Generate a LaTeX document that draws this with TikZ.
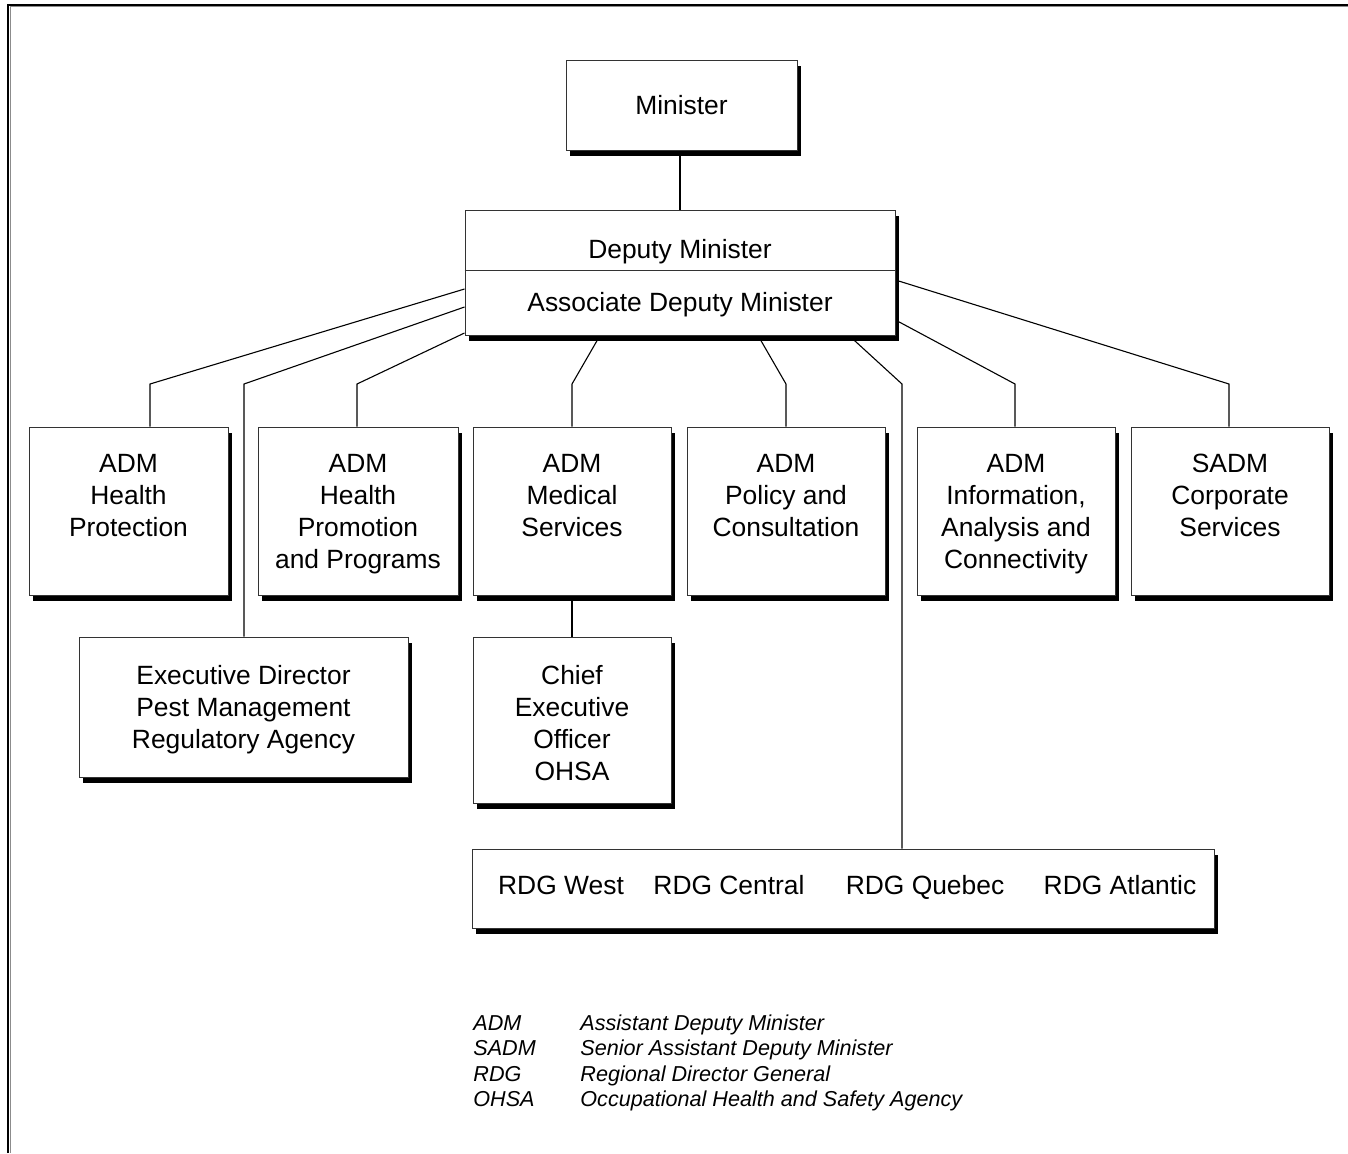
\documentclass[tikz,border=0pt]{standalone}
\usepackage{fontspec}
\setmainfont{Liberation Sans}
\usetikzlibrary{shadows,backgrounds}
\begin{document}
\begin{tikzpicture}[x=0.5pt,y=-0.5pt,
  box/.style={draw=black!80, line width=0.5pt, fill=white, inner sep=0pt, rectangle,
    drop shadow={shadow xshift=2pt, shadow yshift=-3pt, fill=black, opacity=1}},
  txt/.style={align=center, inner sep=0pt, font=\fontsize{13.2}{16}\selectfont},
  conn/.style={draw=black, line width=0.55pt},
  leg/.style={anchor=base west, inner sep=0pt, font=\fontsize{10.8}{13}\selectfont\itshape}]
\useasboundingbox (0,0) rectangle (1348,1153);
% frame
\draw[black!45, line width=0.5pt] (10,1153) -- (10,6.5) -- (1348,6.5);
\draw[black, line width=1pt] (8,1153) -- (8,4.5) -- (1348,4.5);

% helper coordinates
\coordinate (y289) at (0,289);
\coordinate (y307) at (0,307);
\coordinate (y333) at (0,333);
\coordinate (y320) at (0,320);
\coordinate (y280) at (0,280);
\coordinate (y270) at (0,270);
\coordinate (x600) at (600,0);
\coordinate (x758) at (758,0);
\coordinate (x849) at (849,0);
\coordinate (k1) at (150,384);
\coordinate (k2) at (244,384);
\coordinate (k3) at (357,384);
\coordinate (k4) at (572,384);
\coordinate (k5) at (786,384);
\coordinate (k6) at (902,384);
\coordinate (k7) at (1015,384);
\coordinate (k8) at (1229,384);

% boxes
\node[box, minimum width=115.5pt, minimum height=45pt, font=\fontsize{13.2}{16}\selectfont] (min) at (681.5,105) {Minister};
\node[box, minimum width=215pt, minimum height=62.5pt] (dep) at (680,272.5) {};
\draw[line width=0.5pt, black!80] (dep.west |- y270) -- (dep.east |- y270);
\node[txt, anchor=base] (dmt) at (680,258) {Deputy Minister};
\node[txt, anchor=base] (admt) at (680,311) {Associate Deputy Minister};

\node[box, minimum width=99.5pt, minimum height=84pt] (hp) at (128.5,511) {};
\node[box, minimum width=100pt, minimum height=84pt] (hpp) at (358,511) {};
\node[box, minimum width=99pt, minimum height=84pt] (ms) at (572,511) {};
\node[box, minimum width=99pt, minimum height=84pt] (pc) at (786,511) {};
\node[box, minimum width=99pt, minimum height=84pt] (iac) at (1016,511) {};
\node[box, minimum width=99pt, minimum height=84pt] (sadm) at (1230,511) {};
\node[box, minimum width=164.5pt, minimum height=70pt] (ed) at (243.5,707) {};
\node[box, minimum width=99pt, minimum height=83pt] (ceo) at (572,720) {};
\node[box, minimum width=371pt, minimum height=39.5pt] (rdg) at (843,888.5) {};

% connectors (behind boxes)
\begin{scope}[on background layer]
\draw[conn] (dep.north |- min.south) -- (dep.north);
\draw[conn] (dep.west |- y289) -- (k1) -- (k1 |- hp.north);
\draw[conn] (dep.west |- y307) -- (k2) -- (k2 |- ed.north);
\draw[conn] (dep.west |- y333) -- (k3) -- (k3 |- hpp.north);
\draw[conn] (x600 |- dep.south) -- (k4) -- (k4 |- ms.north);
\draw[conn] (x758 |- dep.south) -- (k5) -- (k5 |- pc.north);
\draw[conn] (x849 |- dep.south) -- (k6) -- (k6 |- rdg.north);
\draw[conn] (dep.east |- y320) -- (k7) -- (k7 |- iac.north);
\draw[conn] (dep.east |- y280) -- (k8) -- (k8 |- sadm.north);
\draw[conn] (ms.south) -- (ceo.north);
\end{scope}

% texts
\node[txt, anchor=north] (hpt) at (128.5,454) {ADM\\Health\\Protection};
\node[txt, anchor=north] (hppt) at (358,454) {ADM\\Health\\Promotion\\and Programs};
\node[txt, anchor=north] (mst) at (572,454) {ADM\\Medical\\Services};
\node[txt, anchor=north] (pct) at (786,454) {ADM\\Policy and\\Consultation};
\node[txt, anchor=north] (iact) at (1016,454) {ADM\\Information,\\Analysis and\\Connectivity};
\node[txt, anchor=north] (sadmt) at (1230,454) {SADM\\Corporate\\Services};
\node[txt, anchor=north] (edt) at (243.5,664.5) {Executive Director\\Pest Management\\Regulatory Agency};
\node[txt, anchor=north] (ceot) at (572,664.5) {Chief\\Executive\\Officer\\OHSA};
\node[txt, anchor=base] (r1) at (561,894.5) {RDG West};
\node[txt, anchor=base] (r2) at (729,894.5) {RDG Central};
\node[txt, anchor=base] (r3) at (925,894.5) {RDG Quebec};
\node[txt, anchor=base] (r4) at (1120,894.5) {RDG Atlantic};

% legend
\node[leg] (la1) at (473,1030) {ADM};
\node[leg] (lb1) at (580,1030) {Assistant Deputy Minister};
\node[leg] (la2) at (473,1055.5) {SADM};
\node[leg] (lb2) at (580,1055.5) {Senior Assistant Deputy Minister};
\node[leg] (la3) at (473,1081) {RDG};
\node[leg] (lb3) at (580,1081) {Regional Director General};
\node[leg] (la4) at (473,1106.5) {OHSA};
\node[leg] (lb4) at (580,1106.5) {Occupational Health and Safety Agency};
\end{tikzpicture}
\end{document}
